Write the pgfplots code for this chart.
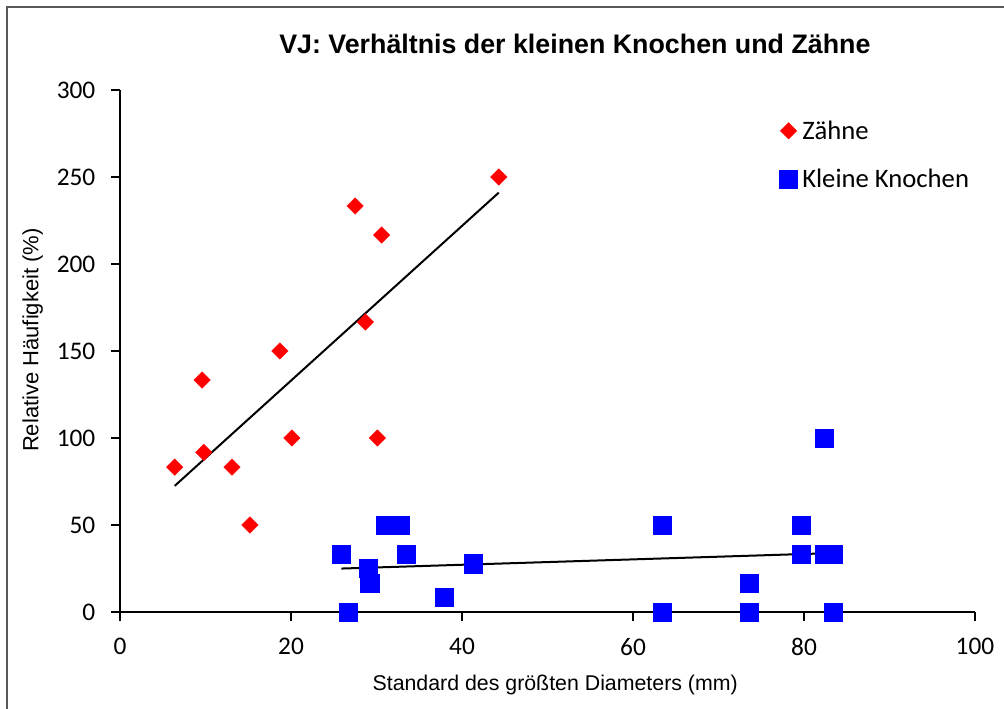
\documentclass[border=0pt]{standalone}
\usepackage{fontspec}
\setmainfont{Carlito}
\newfontfamily\arialfont{Liberation Sans}
\usepackage{pgfplots}
\usepackage{pgfplotstable}
\pgfplotsset{compat=1.18}

% Relative Häufigkeit gegen Standard des größten Diameters
\pgfplotstableread{
x     y
6.4   83.3
9.6   133.3
9.8   91.7
13.1  83.3
15.2  50.0
18.7  150.0
20.1  100.0
27.5  233.3
28.7  166.7
30.1  100.0
30.6  216.7
44.3  250.0
}\zaehne

\pgfplotstableread{
x     y
26.7  0
25.9  33.3
29.0  25.0
29.2  16.7
31.05 50.0
32.7  50.0
33.5  33.3
37.9  8.3
41.3  27.8
63.4  50.0
63.4  0
73.6  16.7
73.6  0
79.7  50.0
79.7  33.3
82.4  33.3
83.4  33.3
82.4  100.0
83.4  0
}\knochen

\begin{document}
\begin{tikzpicture}
  % page area and chart frame
  \path[use as bounding box] (0,0) rectangle (753pt,-531.75pt);
  \draw[black!65, line width=1.5pt] (5.25pt,-531.75pt) -- (5.25pt,-5.25pt) -- (753pt,-5.25pt);

  \begin{axis}[
    at={(90pt,-459pt)}, anchor=south west,
    scale only axis, width=641.25pt, height=391.5pt,
    xmin=0, xmax=100, ymin=0, ymax=300,
    xtick={0,20,...,100}, ytick={0,50,...,300},
    axis lines=left,
    axis line style={-, black, line width=1.4pt},
    tick style={black, line width=1.4pt},
    tick align=outside, major tick length=6.5pt,
    clip=false,
    /pgf/number format/assume math mode=true,
    ticklabel style={font=\fontsize{19}{19}\selectfont},
    xticklabel style={yshift=-9.5pt},
    yticklabel style={xshift=-8.5pt},
    title={VJ: Verhältnis der kleinen Knochen und Zähne},
    title style={font=\arialfont\bfseries\fontsize{20.1}{21}\selectfont,
      at={(axis description cs:0.532,1.073)}, anchor=center},
    xlabel={Standard des größten Diameters (mm)},
    xlabel style={font=\arialfont\fontsize{16}{16}\selectfont,
      at={(axis description cs:0.509,-0.140)}, anchor=center},
    ylabel={Relative Häufigkeit (\%)},
    ylabel style={font=\arialfont\fontsize{16.5}{17}\selectfont,
      at={(axis description cs:-0.102,0.521)}, anchor=center, rotate=0},
    legend style={at={(rel axis cs:0.771,0.942)}, anchor=north west,
      draw=none, fill=none, font=\fontsize{20}{22}\selectfont,
      row sep=21pt, inner sep=0pt,
      nodes={inner xsep=3.5pt, inner ysep=0pt}},
    legend cell align=left,
  ]
    \addplot[only marks, mark=square*, mark size=4.4pt,
      mark options={rotate=45, fill=red, draw=red, line width=0.2pt}]
      table[x=x, y=y] {\zaehne};
    \addlegendentry{Zähne}
    \addplot[only marks, mark=square*, mark size=6.8pt,
      mark options={fill=blue, draw=blue, line width=0.2pt}]
      table[x=x, y=y] {\knochen};
    \addlegendentry{Kleine Knochen}

    % linear trend lines
    \addplot[black, line width=1.5pt, no marks, forget plot]
      table[x=x, y={create col/linear regression={y=y}}] {\zaehne};
    \addplot[black, line width=1.5pt, no marks, forget plot]
      table[x=x, y={create col/linear regression={y=y}}] {\knochen};
  \end{axis}
\end{tikzpicture}
\end{document}
